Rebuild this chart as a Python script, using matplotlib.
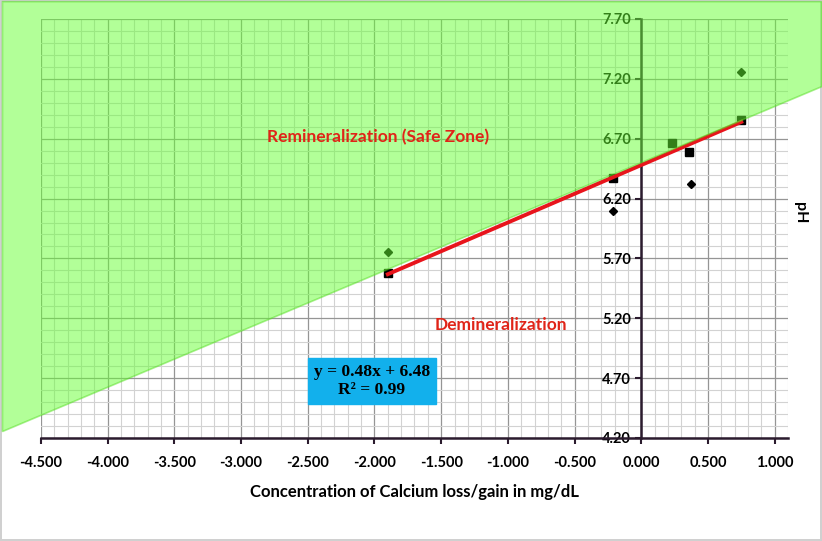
import numpy as np
import matplotlib.pyplot as plt
from matplotlib.patches import Polygon
from matplotlib.ticker import MultipleLocator, FormatStrFormatter

# readings (Calcium loss/gain in mg/dL vs pH)
diamond_x = [-1.90, -0.21, 0.37, 0.75]
diamond_y = [5.75, 6.10, 6.32, 7.26]
square_x = [-1.90, -0.21, 0.23, 0.36, 0.75]
square_y = [5.58, 6.37, 6.66, 6.59, 6.86]

# trendline from the chart label
slope, intercept = 0.48, 6.48
# safe zone boundary
zone_slope, zone_icpt = 0.469, 6.50

plt.rcParams['font.family'] = ['Lato', 'DejaVu Sans']

fig = plt.figure(figsize=(8.22, 5.41), dpi=100)
fig.patch.set_edgecolor('#d0d0d0')
fig.patch.set_linewidth(1.5)
ax = fig.add_axes([0.0499, 0.1904, 0.9087, 0.7745])
ax.set_xlim(-4.5, 1.1)
ax.set_ylim(4.2, 7.7)

# grid
ax.xaxis.set_major_locator(MultipleLocator(0.5))
ax.xaxis.set_minor_locator(MultipleLocator(0.1))
ax.set_yticks(np.arange(4.2, 7.71, 0.5))
ax.set_yticks(np.arange(4.2, 7.71, 0.1), minor=True)
ax.grid(which='minor', color='#d2d2d2', lw=0.8)
ax.grid(which='major', color='#959595', lw=0.9)
ax.set_axisbelow(True)

ax.xaxis.set_major_formatter(FormatStrFormatter('%.3f'))
ax.yaxis.set_major_formatter(FormatStrFormatter('%.2f'))
ax.spines['left'].set_position(('data', 0))
for s in ['top', 'right']:
    ax.spines[s].set_visible(False)
for s in ['left', 'bottom']:
    ax.spines[s].set_color('#2b1b2e')
    ax.spines[s].set_linewidth(1.8)
ax.tick_params(which='minor', length=0)
ax.tick_params(which='major', direction='out', length=4, width=1.5,
               color='#2b1b2e', labelsize=10.5)
ax.tick_params(axis='x', pad=9)
for lab in ax.get_xticklabels() + ax.get_yticklabels():
    lab.set_fontweight('bold')

# data
ax.plot(diamond_x, diamond_y, 'D', color='black', ms=4.5, zorder=4)
ax.plot(square_x, square_y, 's', color='black', ms=6, zorder=4)
xs = np.array([min(square_x), max(square_x)])
ax.plot(xs, slope * xs + intercept, color='#e8141c', lw=2.8, zorder=5)

# safe zone overlay reaching the figure edges
inv = ax.transData.inverted()
(x0, y_top), (x1, _) = inv.transform(fig.transFigure.transform([(0.003, 0.997), (1.0, 0.997)]))
zone = Polygon([(x0, y_top), (x1, y_top), (x1, zone_slope * x1 + zone_icpt),
                (x0, zone_slope * x0 + zone_icpt)],
               closed=True, facecolor='#66ff33', alpha=0.5,
               edgecolor='#55dd22', lw=1.2, clip_on=False, zorder=6)
ax.add_patch(zone)

ax.text(-1.97, 6.71, 'Remineralization (Safe Zone)', color='#e02418',
        fontsize=12.5, fontweight='bold', ha='center', va='center', zorder=8)
ax.text(-1.05, 5.14, 'Demineralization', color='#e02418',
        fontsize=12.5, fontweight='bold', ha='center', va='center', zorder=8)
ax.text(-2.02, 4.675, 'y = 0.48x + 6.48\nR² = 0.99', family='Liberation Serif',
        fontsize=12.5, fontweight='bold', ha='center', va='center',
        linespacing=1.15, zorder=8,
        bbox=dict(boxstyle='square,pad=0.35', fc='#12b0ec', ec='#12b0ec'))

ax.set_xlabel('Concentration of Calcium loss/gain in mg/dL', fontsize=12,
              fontweight='bold', labelpad=10)
fig.text(0.973, 0.607, 'pH', rotation=-90, fontsize=11.5, fontweight='bold',
         ha='center', va='center')

fig.savefig('out.png', dpi=100)
